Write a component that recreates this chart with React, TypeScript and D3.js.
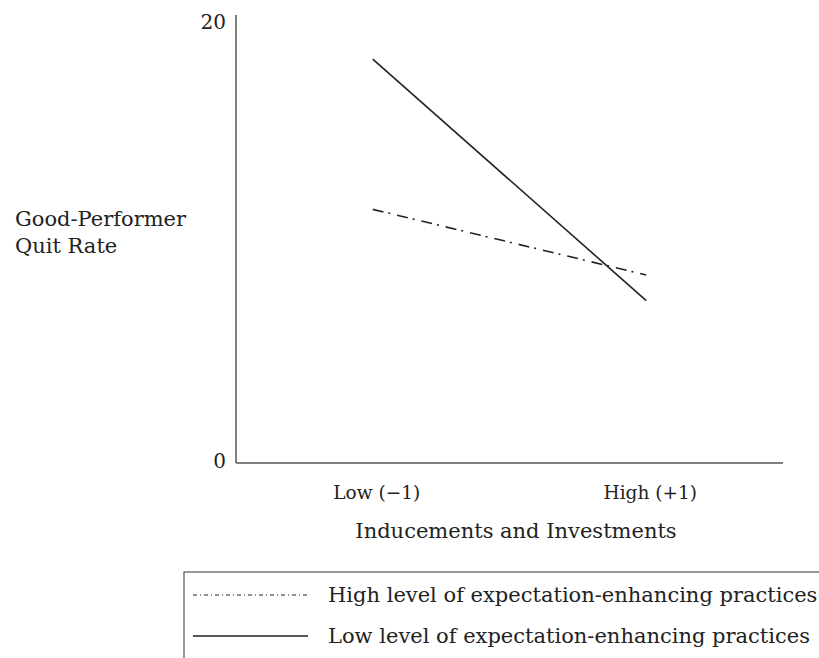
import React from "react";
import * as d3 from "d3";

const xCategories = [-1, 1];
const xTickLabels = ["Low (\u22121)", "High (+1)"];
const yTicks = [0, 20];
const highExpectation = [11.4, 8.45];
const lowExpectation = [18.15, 7.3];
const seriesNames = [
  "High level of expectation-enhancing practices",
  "Low level of expectation-enhancing practices",
];
const yAxisLabel = ["Good-Performer", "Quit Rate"];
const xAxisLabel = "Inducements and Investments";

const W = 819;
const H = 658;
const FONT = "'DejaVu Serif', serif";

export default function App() {
  const x = d3.scaleLinear().domain([-2, 2]).range([236, 783]);
  const y = d3.scaleLinear().domain([0, 20]).range([463, 18]);
  const line = d3
    .line<number>()
    .x((_, i) => x(xCategories[i]))
    .y((d) => y(d));

  const ink = "#222";
  const axisColor = "#555";

  return (
    <svg
      width={W}
      height={H}
      style={{ position: "absolute", left: 0, top: 0, background: "#fff" }}
      fontFamily={FONT}
    >
      {/* axes */}
      <line x1={x(-2)} x2={x(-2)} y1={y(0)} y2={15} stroke={axisColor} strokeWidth={1.5} />
      <line x1={x(-2)} x2={x(2)} y1={y(0)} y2={y(0)} stroke={axisColor} strokeWidth={1.5} />

      {yTicks.map((t) => (
        <text key={t} x={226} y={y(t) + (t === 0 ? 5 : 11)} textAnchor="end" fontSize={20} fill={ink}>
          {t}
        </text>
      ))}

      {xCategories.map((c, i) => (
        <text key={c} x={x(c) + 4} y={499} textAnchor="middle" fontSize={18.5} fill={ink}>
          {xTickLabels[i]}
        </text>
      ))}

      <text x={516} y={538} textAnchor="middle" fontSize={21} fill={ink}>
        {xAxisLabel}
      </text>

      <text fontSize={21} fill={ink}>
        <tspan x={15} y={226}>{yAxisLabel[0]}</tspan>
        <tspan x={15} y={253}>{yAxisLabel[1]}</tspan>
      </text>

      {/* series */}
      <path d={line(highExpectation) || ""} fill="none" stroke={ink} strokeWidth={1.6} strokeDasharray="11,5,2,7" />
      <path d={line(lowExpectation) || ""} fill="none" stroke={ink} strokeWidth={1.6} />

      {/* legend */}
      <rect x={184} y={572} width={700} height={120} fill="none" stroke={axisColor} strokeWidth={1.2} />
      <line x1={193} x2={308} y1={595} y2={595} stroke={ink} strokeWidth={1} strokeDasharray="4,3,1,3" />
      <line x1={193} x2={308} y1={636} y2={636} stroke={ink} strokeWidth={1.4} />
      <text x={328} y={602} fontSize={21} fill={ink}>{seriesNames[0]}</text>
      <text x={328} y={643} fontSize={21} fill={ink}>{seriesNames[1]}</text>
    </svg>
  );
}
